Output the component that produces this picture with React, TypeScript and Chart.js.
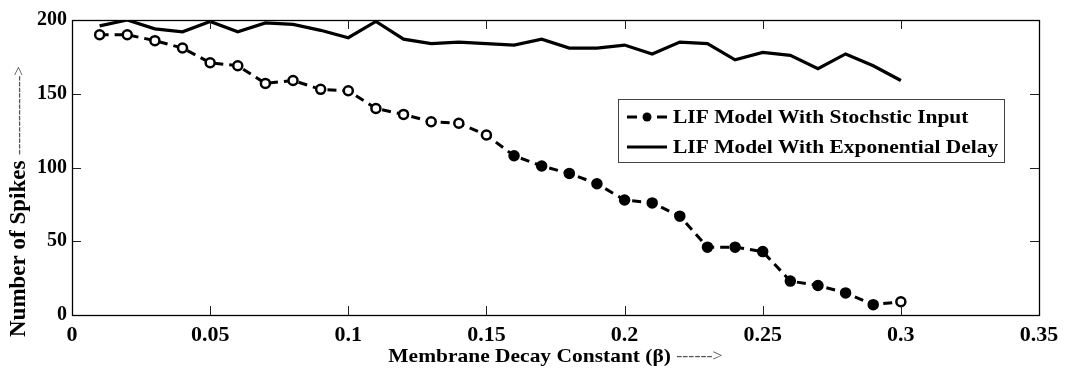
import React, { useEffect, useRef } from "react";
import { Chart, registerables } from "chart.js";

Chart.register(...registerables);

const betaValues = [
  0.01, 0.02, 0.03, 0.04, 0.05, 0.06, 0.07, 0.08, 0.09, 0.1,
  0.11, 0.12, 0.13, 0.14, 0.15, 0.16, 0.17, 0.18, 0.19, 0.2,
  0.21, 0.22, 0.23, 0.24, 0.25, 0.26, 0.27, 0.28, 0.29, 0.3,
];
const stochasticSpikes = [
  190, 190, 186, 181, 171, 169, 157, 159, 153, 152,
  140, 136, 131, 130, 122, 108, 101, 96, 89, 78,
  76, 67, 46, 46, 43, 23, 20, 15, 7, 9,
];
const exponentialSpikes = [
  196, 200, 194, 192, 199, 192, 198, 197, 193, 188,
  199, 187, 184, 185, 184, 183, 187, 181, 181, 183,
  177, 185, 184, 173, 178, 176, 167, 177, 169, 159,
];
const xTickValues = [0, 0.05, 0.1, 0.15, 0.2, 0.25, 0.3, 0.35];
const yTickValues = [0, 50, 100, 150, 200];
const seriesLabels = ["LIF Model With Stochstic Input", "LIF Model With Exponential Delay"];
const xTitle = "Membrane Decay Constant (\u03b2)";
const yTitle = "Number of Spikes";
const xArrowText = "------>";
const yArrowText = "-------------->";

const SERIF = "'Liberation Serif', 'Times New Roman', serif";
const STRETCH = 1.13;

function stretchedText(ctx: any, text: string, x: number, y: number, sx: number) {
  ctx.save();
  ctx.translate(x, y);
  ctx.scale(sx, 1);
  ctx.fillText(text, 0, 0);
  ctx.restore();
}

const framePlugin = {
  id: "frameTicks",
  afterDraw(chart: any) {
    const { ctx, chartArea, scales } = chart;
    const { left, right, top, bottom } = chartArea;
    ctx.save();
    ctx.strokeStyle = "#222";
    ctx.lineWidth = 1;
    const tl = 9;
    xTickValues.forEach((v) => {
      const px = Math.round(scales.x.getPixelForValue(v)) + 0.5;
      if (px <= left + 2 || px >= right - 2) return;
      ctx.beginPath();
      ctx.moveTo(px, bottom);
      ctx.lineTo(px, bottom - tl);
      ctx.moveTo(px, top);
      ctx.lineTo(px, top + tl);
      ctx.stroke();
    });
    yTickValues.forEach((v) => {
      const py = Math.round(scales.y.getPixelForValue(v)) + 0.5;
      if (py <= top + 2 || py >= bottom - 2) return;
      ctx.beginPath();
      ctx.moveTo(left, py);
      ctx.lineTo(left + tl, py);
      ctx.moveTo(right, py);
      ctx.lineTo(right - tl, py);
      ctx.stroke();
    });
    ctx.strokeStyle = "#000";
    ctx.lineWidth = 1.3;
    ctx.strokeRect(left + 0.5, top + 0.5, right - left, bottom - top);

    const boldFont = `bold 19px ${SERIF}`;
    const thinFont = `16px ${SERIF}`;
    ctx.textBaseline = "alphabetic";
    ctx.textAlign = "left";

    // x title (horizontally stretched like the reference)
    ctx.font = boldFont;
    const wB = ctx.measureText(xTitle + " ").width * STRETCH;
    ctx.font = thinFont;
    const wA = ctx.measureText(xArrowText).width * STRETCH;
    const cx = (left + right) / 2;
    const sx = cx - (wB + wA) / 2;
    ctx.fillStyle = "#000";
    ctx.font = boldFont;
    stretchedText(ctx, xTitle + " ", sx, 362, STRETCH);
    ctx.font = thinFont;
    ctx.fillStyle = "#555";
    stretchedText(ctx, xArrowText, sx + wB, 361, STRETCH);

    // y title
    ctx.save();
    ctx.translate(25, 0);
    ctx.rotate(-Math.PI / 2);
    ctx.font = `bold 23px ${SERIF}`;
    const yB = ctx.measureText(yTitle + " ").width;
    const ys = -337;
    ctx.fillStyle = "#000";
    ctx.fillText(yTitle + " ", ys, 0);
    ctx.font = `17px ${SERIF}`;
    ctx.fillStyle = "#555";
    ctx.fillText(yArrowText, ys + yB, -1);
    ctx.restore();

    // legend
    const bx = 618, by = 99, bw = 386, bh = 63;
    ctx.fillStyle = "#fff";
    ctx.fillRect(bx, by, bw, bh);
    ctx.strokeStyle = "#444";
    ctx.lineWidth = 1;
    ctx.strokeRect(bx + 0.5, by + 0.5, bw, bh);
    const rows = [117, 147];
    chart.data.datasets.forEach((ds: any, i: number) => {
      const ry = rows[i];
      ctx.strokeStyle = "#000";
      ctx.lineWidth = 3;
      ctx.beginPath();
      if (ds.borderDash && ds.borderDash.length) {
        ctx.moveTo(627, ry);
        ctx.lineTo(637, ry);
        ctx.moveTo(657, ry);
        ctx.lineTo(667, ry);
      } else {
        ctx.moveTo(627, ry);
        ctx.lineTo(667, ry);
      }
      ctx.stroke();
      if (ds.pointRadius > 0) {
        ctx.fillStyle = "#000";
        ctx.beginPath();
        ctx.arc(647, ry, 4.5, 0, Math.PI * 2);
        ctx.fill();
      }
      ctx.fillStyle = "#000";
      ctx.font = `bold 19px ${SERIF}`;
      ctx.textBaseline = "middle";
      stretchedText(ctx, ds.label, 673, ry + 1, STRETCH);
    });
    ctx.restore();
  },
};

export default function App() {
  const ref = useRef<HTMLCanvasElement | null>(null);
  useEffect(() => {
    if (!ref.current) return;
    const chart = new Chart(ref.current, {
      type: "line",
      data: {
        datasets: [
          {
            label: seriesLabels[0],
            data: betaValues.map((b, i) => ({ x: b, y: stochasticSpikes[i] })),
            borderColor: "#000",
            borderWidth: 3,
            borderDash: [9, 6],
            pointRadius: 4.5,
            pointBorderWidth: 2.5,
            pointBorderColor: "#000",
            pointBackgroundColor: (c: any) =>
              c.dataIndex <= 14 || c.dataIndex === 29 ? "#fff" : "#000",
            tension: 0,
          },
          {
            label: seriesLabels[1],
            data: betaValues.map((b, i) => ({ x: b, y: exponentialSpikes[i] })),
            borderColor: "#000",
            borderWidth: 3.2,
            pointRadius: 0,
            tension: 0,
          },
        ],
      },
      options: {
        responsive: false,
        animation: false,
        layout: { padding: { top: 20, right: 30, left: 0, bottom: 0 } },
        plugins: { legend: { display: false }, tooltip: { enabled: false }, title: { display: false } },
        scales: {
          x: {
            type: "linear",
            min: 0,
            max: 0.35,
            afterBuildTicks: (s: any) => {
              s.ticks = xTickValues.map((v) => ({ value: v }));
            },
            afterFit: (s: any) => {
              s.height = 54;
            },
            grid: { display: false, drawTicks: false },
            border: { display: false },
            ticks: {
              color: "#000",
              padding: 7,
              maxRotation: 0,
              autoSkip: false,
              font: { family: SERIF, size: 22, weight: "bold" },
              callback: (v: any) => String(Number(Number(v).toFixed(2))),
            },
          },
          y: {
            type: "linear",
            min: 0,
            max: 200,
            afterBuildTicks: (s: any) => {
              s.ticks = yTickValues.map((v) => ({ value: v }));
            },
            afterFit: (s: any) => {
              s.width = 72;
            },
            grid: { display: false, drawTicks: false },
            border: { display: false },
            ticks: {
              color: "#000",
              padding: 5,
              font: { family: SERIF, size: 20, weight: "bold" },
            },
          },
        },
      },
      plugins: [framePlugin],
    });
    return () => chart.destroy();
  }, []);
  return (
    <div style={{ position: "absolute", left: 0, top: 0, width: 1069, height: 369, background: "#fff" }}>
      <canvas ref={ref} width={1069} height={369} />
    </div>
  );
}
